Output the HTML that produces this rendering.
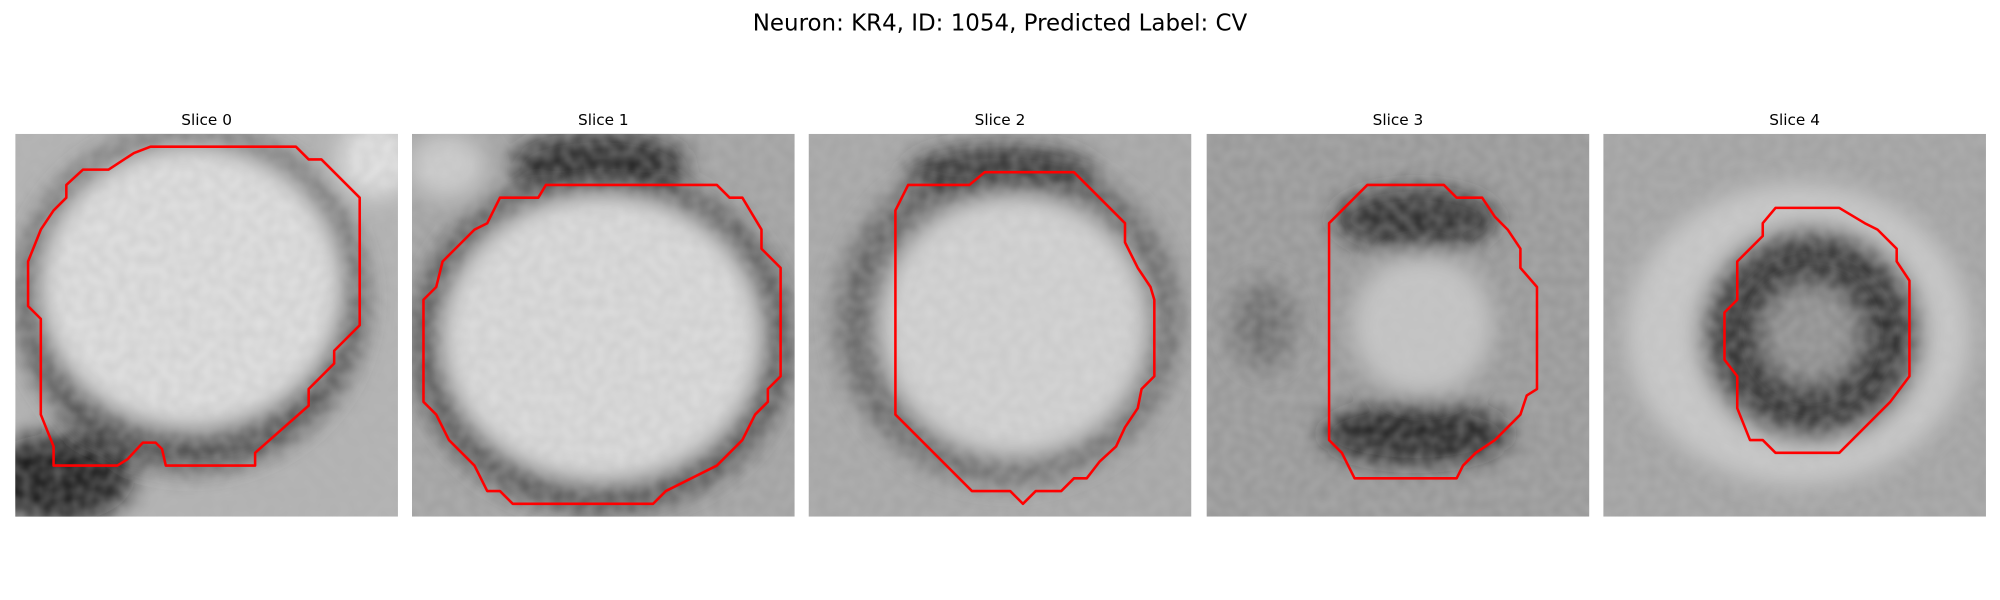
<!DOCTYPE html>
<html><head><meta charset="utf-8"><style>
html,body{margin:0;padding:0;background:#fff;width:2000px;height:600px;overflow:hidden}
text{font-family:"DejaVu Sans","Liberation Sans",sans-serif}
</style></head><body>
<svg id="fig" width="2000" height="600" viewBox="0 0 1568 470.4" xmlns="http://www.w3.org/2000/svg">
<defs>
<filter id="bl" x="-50%" y="-50%" width="200%" height="200%"><feGaussianBlur stdDeviation="9"/></filter>
<filter id="nz" x="0" y="0" width="100%" height="100%">
<feTurbulence type="fractalNoise" baseFrequency="0.12" numOctaves="1" seed="3"/>
<feColorMatrix type="matrix" values="0 0 0 0 0.5  0 0 0 0 0.5  0 0 0 0 0.5  0 0 0 0.5 0"/>
</filter>
<clipPath id="c0"><rect x="12" y="105" width="300" height="300"/></clipPath>
<clipPath id="c1"><rect x="323" y="105" width="300" height="300"/></clipPath>
<clipPath id="c2"><rect x="634" y="105" width="300" height="300"/></clipPath>
<clipPath id="c3"><rect x="946" y="105" width="300" height="300"/></clipPath>
<clipPath id="c4"><rect x="1257" y="105" width="300" height="300"/></clipPath>
</defs>
<text x="784" y="24" font-size="18" text-anchor="middle">Neuron: KR4, ID: 1054, Predicted Label: CV</text>

<g clip-path="url(#c0)">
<rect x="12" y="105" width="300" height="300" fill="#b0b0b0"/>
<g filter="url(#bl)">
<ellipse cx="150" cy="235" rx="138" ry="135" fill="#444"/>
<ellipse cx="45" cy="375" rx="60" ry="35" fill="#0a0a0a"/>
<ellipse cx="150" cy="225" rx="118" ry="110" fill="#e2e2e2"/>
<ellipse cx="295" cy="125" rx="30" ry="30" fill="#e6e6e6"/>
</g>
<rect x="12" y="105" width="300" height="300" filter="url(#nz)"/>
</g>
<g clip-path="url(#c1)">
<rect x="323" y="105" width="300" height="300" fill="#a0a0a0"/>
<g filter="url(#bl)">
<ellipse cx="472" cy="268" rx="150" ry="135" fill="#404040"/>
<ellipse cx="470" cy="128" rx="70" ry="25" fill="#1a1a1a"/>
<ellipse cx="472" cy="265" rx="125" ry="112" fill="#dedede"/>
<ellipse cx="350" cy="130" rx="30" ry="25" fill="#cfcfcf"/>
</g>
<rect x="323" y="105" width="300" height="300" filter="url(#nz)"/>
</g>
<g clip-path="url(#c2)">
<rect x="634" y="105" width="300" height="300" fill="#a4a4a4"/>
<g filter="url(#bl)">
<ellipse cx="790" cy="250" rx="135" ry="130" fill="#5c5c5c"/>
<ellipse cx="785" cy="135" rx="75" ry="22" fill="#282828"/>
<ellipse cx="795" cy="255" rx="105" ry="102" fill="#d6d6d6"/>
</g>
<rect x="634" y="105" width="300" height="300" filter="url(#nz)"/>
</g>
<g clip-path="url(#c3)">
<rect x="946" y="105" width="300" height="300" fill="#959595"/>
<g filter="url(#bl)">
<ellipse cx="1110" cy="172" rx="65" ry="25" fill="#202020"/>
<ellipse cx="1110" cy="340" rx="75" ry="25" fill="#181818"/>
<ellipse cx="990" cy="255" rx="25" ry="35" fill="#666"/>
<ellipse cx="1115" cy="255" rx="55" ry="55" fill="#c6c6c6"/>
</g>
<rect x="946" y="105" width="300" height="300" filter="url(#nz)"/>
</g>
<g clip-path="url(#c4)">
<rect x="1257" y="105" width="300" height="300" fill="#a0a0a0"/>
<g filter="url(#bl)">
<ellipse cx="1410" cy="262" rx="135" ry="118" fill="#cacaca"/>
<ellipse cx="1420" cy="262" rx="88" ry="85" fill="#262626"/>
<ellipse cx="1420" cy="262" rx="38" ry="38" fill="#8a8a8a"/>
</g>
<rect x="1257" y="105" width="300" height="300" filter="url(#nz)"/>
</g>

<g font-size="12" text-anchor="middle">
<text x="162" y="98">Slice 0</text>
<text x="473" y="98">Slice 1</text>
<text x="784" y="98">Slice 2</text>
<text x="1096" y="98">Slice 3</text>
<text x="1407" y="98">Slice 4</text>
</g>

<g fill="none" stroke="#ff0000" stroke-width="2" stroke-linejoin="round">
<polygon points="118,115 232,115 242,125 252,125 282,155 282,255 262,275 262,285 242,305 242,318 200,355 200,365 130,365 127,352 122,347 112,347 100,360 92,365 42,365 42,350 32,325 32,250 22,240 22,205 32,180 42,165 52,155 52,145 65,133 85,133 105,120"/>
<polygon points="428,145 562,145 572,155 582,155 597,180 597,195 612,210 612,295 602,305 602,315 592,325 582,345 562,365 542,375 522,385 512,395 402,395 392,385 382,385 372,365 352,345 342,325 332,315 332,235 342,225 347,205 357,195 372,180 382,175 392,155 422,155"/>
<polygon points="702,165 712,145 760,145 772,135 842,135 862,155 872,165 882,175 882,190 892,210 902,225 905,235 905,295 895,305 892,320 882,335 875,350 862,362 852,375 842,375 832,385 812,385 802,395 792,385 762,385 702,325"/>
<polygon points="1072,145 1132,145 1142,155 1162,155 1172,170 1182,180 1192,195 1192,210 1205,225 1205,305 1197,310 1192,325 1182,335 1172,345 1157,355 1147,365 1142,375 1062,375 1052,355 1042,345 1042,175 1057,160"/>
<polygon points="1382,175 1392,163 1442,163 1462,175 1472,180 1487,195 1487,205 1497,220 1497,295 1482,315 1472,325 1462,335 1452,345 1442,355 1392,355 1382,345 1372,345 1362,320 1362,295 1352,282 1352,245 1362,235 1362,205 1372,195 1382,185"/>
</g>
</svg>
</body></html>
